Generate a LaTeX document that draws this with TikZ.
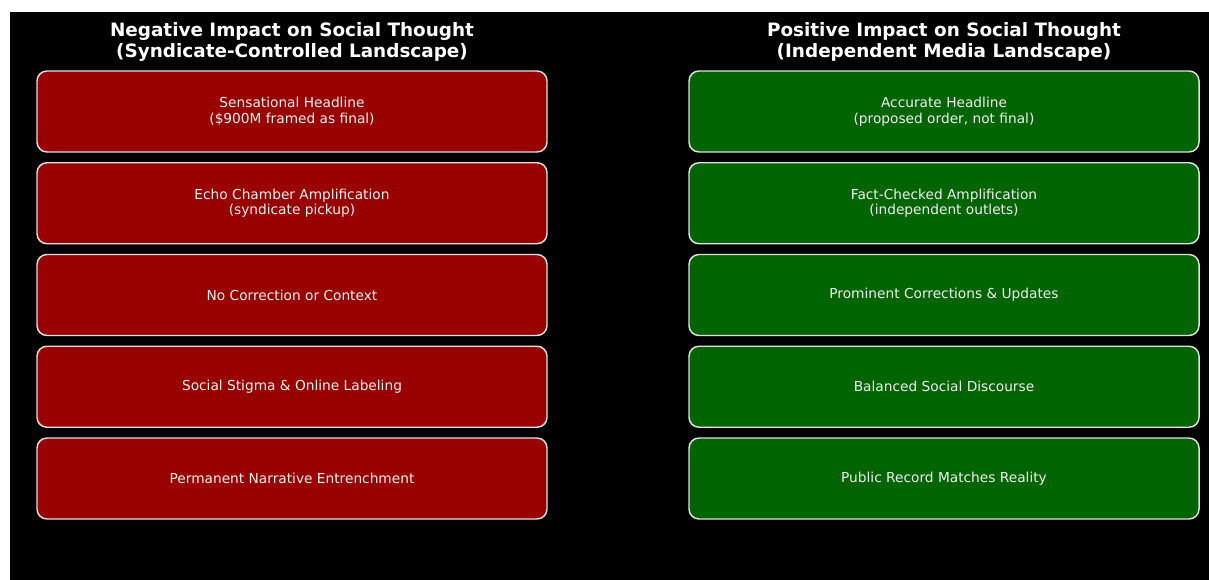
\documentclass[tikz,border=0pt]{standalone}
\usepackage{fontspec}
\setmainfont{DejaVu Sans}
\definecolor{negred}{HTML}{990000}
\definecolor{posgreen}{HTML}{006400}
\definecolor{edgec}{HTML}{E0E0E0}
\definecolor{txtc}{HTML}{F2F2F2}
\begin{document}
\begin{tikzpicture}[x=0.75pt,y=-0.75pt,
  card/.style={draw=edgec,line width=1.1pt,rounded corners=7.5pt,minimum width=382.5pt,minimum height=60.75pt,inner sep=0pt,align=center,text=txtc,font=\fontsize{10.3}{11.6}\selectfont},
  negcard/.style={card,fill=negred},
  poscard/.style={card,fill=posgreen},
  ttl/.style={text=white,align=center,font=\bfseries\fontsize{13.8}{15.8}\selectfont}]
\useasboundingbox (0,0) rectangle (1209,580);
\fill[white] (0,0) rectangle (1209,580);
\fill[black] (10,12) rectangle (1209,580);
\node[ttl] (tl) at (292,42) {Negative Impact on Social Thought\\(Syndicate-Controlled Landscape)};
\node[ttl] (tr) at (944,42) {Positive Impact on Social Thought\\(Independent Media Landscape)};
\node[negcard] (n1) at (292,111.5) {Sensational Headline\\(\$900M framed as final)};
\node[negcard] (n2) at (292,203.25) {Echo Chamber Amplification\\(syndicate pickup)};
\node[negcard] (n3) at (292,295) {No Correction or Context};
\node[negcard] (n4) at (292,386.75) {Social Stigma \& Online Labeling};
\node[negcard] (n5) at (292,478.5) {Permanent Narrative Entrenchment};
\node[poscard] (p1) at (944,111.5) {Accurate Headline\\(proposed order, not final)};
\node[poscard] (p2) at (944,203.25) {Fact-Checked Amplification\\(independent outlets)};
\node[poscard] (p3) at (944,295) {Prominent Corrections \& Updates};
\node[poscard] (p4) at (944,386.75) {Balanced Social Discourse};
\node[poscard] (p5) at (944,478.5) {Public Record Matches Reality};
\end{tikzpicture}
\end{document}
